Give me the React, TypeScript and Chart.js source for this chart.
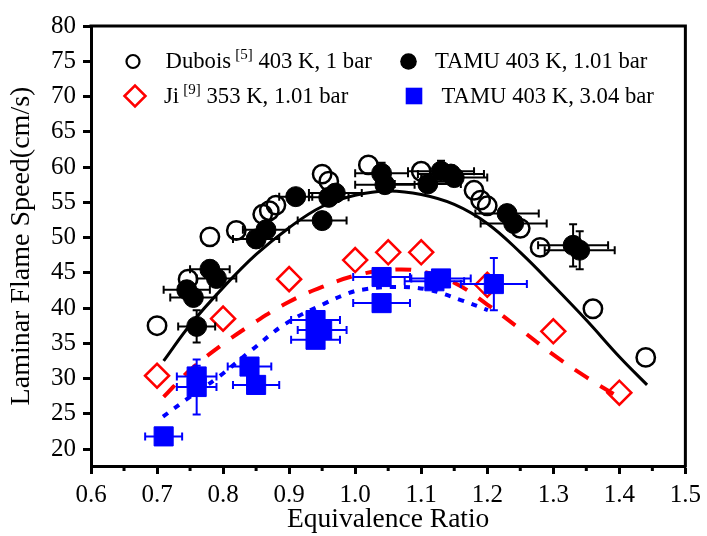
import React, { useEffect, useRef } from "react";
import { Chart, registerables } from "chart.js";

Chart.register(...registerables);

const FONT = '"Liberation Serif", "Times New Roman", serif';

// Axis ticks
const xTicks = [0.6, 0.7, 0.8, 0.9, 1.0, 1.1, 1.2, 1.3, 1.4, 1.5];
const xMinorTicks = [0.65, 0.75, 0.85, 0.95, 1.05, 1.15, 1.25, 1.35, 1.45];
const yTicks = [20, 25, 30, 35, 40, 45, 50, 55, 60, 65, 70, 75, 80];

// Dubois [5] 403 K, 1 bar (open circles)
const duboisX = [0.70, 0.747, 0.78, 0.82, 0.86, 0.87, 0.88, 0.95, 0.96, 1.02, 1.10, 1.18, 1.19, 1.20, 1.25, 1.28, 1.36, 1.44];
const duboisY = [37.5, 44.1, 50.1, 51.0, 53.3, 53.8, 54.6, 59.0, 58.0, 60.3, 59.4, 56.7, 55.3, 54.5, 51.3, 48.6, 39.9, 33.0];

// Ji [9] 353 K, 1.01 bar (open diamonds)
const jiX = [0.7, 0.8, 0.9, 1.0, 1.05, 1.1, 1.2, 1.3, 1.4];
const jiY = [30.4, 38.5, 44.1, 46.8, 47.9, 47.9, 43.3, 36.7, 28.0];

// TAMU 403 K, 1.01 bar (filled circles with error bars)
const tamu1X = [0.76, 0.745, 0.755, 0.78, 0.79, 0.85, 0.865, 0.91, 0.95, 0.96, 0.97, 1.04, 1.045, 1.11, 1.13, 1.145, 1.15, 1.23, 1.24, 1.33, 1.34];
const tamu1Y = [37.4, 42.6, 41.5, 45.5, 44.2, 49.8, 51.1, 55.8, 52.4, 55.7, 56.3, 59.1, 57.5, 57.6, 59.4, 59.0, 58.5, 53.4, 52.0, 48.9, 48.2];
const tamu1XErr = [0.028, 0.035, 0.035, 0.03, 0.03, 0.035, 0.035, 0.025, 0.037, 0.03, 0.04, 0.04, 0.045, 0.05, 0.05, 0.05, 0.05, 0.048, 0.05, 0.053, 0.053];
const tamu1YErr = [2.3, 1.2, 1.2, 1.2, 1.2, 1.2, 1.2, 0.8, 1.0, 1.0, 1.0, 1.5, 1.2, 1.0, 1.5, 1.2, 1.0, 1.0, 1.0, 3.0, 2.7];

// TAMU 403 K, 3.04 bar (filled squares with error bars)
const tamu3X = [0.71, 0.76, 0.76, 0.84, 0.85, 0.94, 0.95, 0.94, 1.04, 1.04, 1.12, 1.13, 1.21];
const tamu3Y = [21.8, 30.3, 28.8, 31.7, 29.1, 38.3, 36.9, 35.5, 44.4, 40.7, 43.8, 44.2, 43.4];
const tamu3XErr = [0.028, 0.03, 0.03, 0.033, 0.035, 0.037, 0.037, 0.037, 0.043, 0.043, 0.045, 0.045, 0.05];
const tamu3YErr = [0.8, 1.5, 3.9, 0.8, 0.8, 1.0, 1.0, 1.0, 1.0, 0.8, 1.0, 1.0, 3.7];

// Fitted curves
const fitBlackX = [0.71, 0.75, 0.80, 0.85, 0.90, 0.95, 1.00, 1.05, 1.10, 1.15, 1.20, 1.25, 1.30, 1.35, 1.40, 1.442];
const fitBlackY = [32.5, 37.6, 42.9, 47.6, 51.4, 54.4, 56.0, 56.6, 56.1, 54.7, 52.0, 47.9, 43.2, 38.3, 33.1, 29.1];
const fitRedX = [0.71, 0.75, 0.80, 0.85, 0.90, 0.95, 1.00, 1.05, 1.10, 1.15, 1.20, 1.25, 1.30, 1.35, 1.40];
const fitRedY = [27.4, 31.2, 34.9, 38.1, 40.9, 43.0, 44.6, 45.4, 45.2, 43.6, 40.5, 37.0, 33.4, 30.2, 27.3];
const fitBlueX = [0.709, 0.744, 0.794, 0.844, 0.895, 0.955, 0.99, 1.01, 1.06, 1.111, 1.161, 1.201];
const fitBlueY = [24.6, 27.0, 30.3, 34.1, 37.8, 40.7, 42.1, 42.6, 43.0, 42.6, 41.1, 39.7];

// Legend texts
const legendEntries = [
  { main: "Dubois", sup: "[5]", rest: "403 K, 1 bar" },
  { main: "Ji", sup: "[9]", rest: "353 K, 1.01 bar" },
  { main: "TAMU 403 K, 1.01 bar", sup: "", rest: "" },
  { main: "TAMU 403 K, 3.04 bar", sup: "", rest: "" },
];

const toPts = (xs: number[], ys: number[]) => xs.map((x, i) => ({ x, y: ys[i] }));

const errorBarPlugin = {
  id: "errorBars",
  beforeDatasetDraw(chart: any, args: any) {
    const ds: any = chart.data.datasets[args.index];
    if (!ds.errX) return;
    const xs = chart.scales.x;
    const ys = chart.scales.y;
    const ctx = chart.ctx;
    const cap = 4;
    ctx.save();
    ctx.strokeStyle = ds.errColor;
    ctx.lineWidth = 2;
    ds.data.forEach((p: any, i: number) => {
      const cx = xs.getPixelForValue(p.x);
      const cy = ys.getPixelForValue(p.y);
      const x1 = xs.getPixelForValue(p.x - ds.errX[i]);
      const x2 = xs.getPixelForValue(p.x + ds.errX[i]);
      const y1 = ys.getPixelForValue(p.y - ds.errY[i]);
      const y2 = ys.getPixelForValue(p.y + ds.errY[i]);
      ctx.beginPath();
      ctx.moveTo(x1, cy); ctx.lineTo(x2, cy);
      ctx.moveTo(x1, cy - cap); ctx.lineTo(x1, cy + cap);
      ctx.moveTo(x2, cy - cap); ctx.lineTo(x2, cy + cap);
      ctx.moveTo(cx, y1); ctx.lineTo(cx, y2);
      ctx.moveTo(cx - cap, y1); ctx.lineTo(cx + cap, y1);
      ctx.moveTo(cx - cap, y2); ctx.lineTo(cx + cap, y2);
      ctx.stroke();
    });
    ctx.restore();
  },
};

const framePlugin = {
  id: "frame",
  afterDraw(chart: any) {
    const { ctx, chartArea } = chart;
    const xs = chart.scales.x;
    ctx.save();
    ctx.strokeStyle = "#000";
    ctx.lineWidth = 3;
    ctx.beginPath();
    ctx.moveTo(chartArea.left - 1.5, chartArea.top);
    ctx.lineTo(chartArea.right, chartArea.top);
    ctx.lineTo(chartArea.right, chartArea.bottom + 1.5);
    ctx.stroke();
    ctx.beginPath();
    xMinorTicks.forEach((v) => {
      const px = xs.getPixelForValue(v);
      ctx.moveTo(px, chartArea.bottom);
      ctx.lineTo(px, chartArea.bottom + 5);
    });
    ctx.stroke();
    ctx.restore();
  },
};

const legendPlugin = {
  id: "customLegend",
  afterDraw(chart: any) {
    const ctx = chart.ctx;
    ctx.save();
    ctx.fillStyle = "#000";
    ctx.textBaseline = "alphabetic";
    const mainFont = `22.7px ${FONT}`;
    const supFont = `15px ${FONT}`;
    const drawText = (x: number, y: number, e: any) => {
      ctx.font = mainFont;
      ctx.fillStyle = "#000";
      ctx.fillText(e.main, x, y);
      let cx = x + ctx.measureText(e.main).width;
      if (e.sup) {
        cx += ctx.measureText(" ").width - 1.5;
        ctx.font = supFont;
        ctx.fillText(e.sup, cx, y - 9);
        cx += ctx.measureText(e.sup).width;
        ctx.font = mainFont;
        cx += ctx.measureText(" ").width;
        ctx.fillText(e.rest, cx, y);
      }
    };
    // Dubois: open circle
    ctx.strokeStyle = "#000";
    ctx.lineWidth = 2.2;
    ctx.beginPath();
    ctx.arc(133, 61.5, 6.5, 0, Math.PI * 2);
    ctx.stroke();
    drawText(165.5, 68.3, legendEntries[0]);
    // Ji: diamond
    ctx.strokeStyle = "#ff0000";
    ctx.lineWidth = 2.5;
    ctx.beginPath();
    ctx.moveTo(135 - 10.5, 96);
    ctx.lineTo(135, 96 - 10.5);
    ctx.lineTo(135 + 10.5, 96);
    ctx.lineTo(135, 96 + 10.5);
    ctx.closePath();
    ctx.stroke();
    drawText(164, 102.5, legendEntries[1]);
    // TAMU 1.01: filled circle
    ctx.fillStyle = "#000";
    ctx.beginPath();
    ctx.arc(408.5, 61.5, 8.3, 0, Math.PI * 2);
    ctx.fill();
    drawText(435, 68.3, legendEntries[2]);
    // TAMU 3.04: blue square
    ctx.fillStyle = "#0000ff";
    ctx.fillRect(414 - 8.3, 96 - 8.3, 16.6, 16.6);
    drawText(441.5, 103, legendEntries[3]);
    ctx.restore();
  },
};

export default function App() {
  const canvasRef = useRef<HTMLCanvasElement | null>(null);

  useEffect(() => {
    document.body.style.margin = "0";
    const canvas = canvasRef.current;
    if (!canvas) return;
    const chart = new Chart(canvas, {
      type: "scatter",
      data: {
        datasets: [
          {
            label: "TAMU 403 K, 3.04 bar",
            data: toPts(tamu3X, tamu3Y),
            pointStyle: "rect",
            pointRadius: 13.5,
            pointBackgroundColor: "#0000ff",
            pointBorderColor: "#0000ff",
            pointBorderWidth: 1,
            showLine: false,
            order: 0,
            errX: tamu3XErr,
            errY: tamu3YErr,
            errColor: "#0000ff",
          } as any,
          {
            label: "TAMU 403 K, 1.01 bar",
            data: toPts(tamu1X, tamu1Y),
            pointStyle: "circle",
            pointRadius: 10,
            pointBackgroundColor: "#000",
            pointBorderColor: "#000",
            pointBorderWidth: 1,
            showLine: false,
            order: 1,
            errX: tamu1XErr,
            errY: tamu1YErr,
            errColor: "#000",
          } as any,
          {
            label: "Ji 353 K, 1.01 bar",
            data: toPts(jiX, jiY),
            pointStyle: "rectRot",
            pointRadius: 12,
            pointBackgroundColor: "rgba(0,0,0,0)",
            pointBorderColor: "#ff0000",
            pointBorderWidth: 2.5,
            showLine: false,
            order: 2,
          },
          {
            label: "Dubois 403 K, 1 bar",
            data: toPts(duboisX, duboisY),
            pointStyle: "circle",
            pointRadius: 9.2,
            pointBackgroundColor: "rgba(0,0,0,0)",
            pointBorderColor: "#000",
            pointBorderWidth: 2.5,
            showLine: false,
            order: 3,
          },
          {
            label: "fit 3.04 bar",
            data: toPts(fitBlueX, fitBlueY),
            showLine: true,
            pointRadius: 0,
            borderColor: "#0000ff",
            borderWidth: 4,
            borderDash: [6, 8],
            tension: 0.4,
            order: 5,
          },
          {
            label: "fit Ji",
            data: toPts(fitRedX, fitRedY),
            showLine: true,
            pointRadius: 0,
            borderColor: "#ff0000",
            borderWidth: 4,
            borderDash: [16, 14],
            tension: 0.4,
            order: 6,
          },
          {
            label: "fit 1.01 bar",
            data: toPts(fitBlackX, fitBlackY),
            showLine: true,
            pointRadius: 0,
            borderColor: "#000",
            borderWidth: 3,
            tension: 0.4,
            order: 7,
          },
        ],
      },
      options: {
        responsive: false,
        animation: false,
        layout: { padding: { top: 26, right: 18, left: 0, bottom: 0 } },
        plugins: {
          legend: { display: false },
          tooltip: { enabled: false },
        },
        scales: {
          x: {
            type: "linear",
            min: 0.6,
            max: 1.5,
            afterBuildTicks: (s: any) => {
              s.ticks = xTicks.map((v) => ({ value: v }));
            },
            afterFit: (s: any) => {
              s.height = 70;
            },
            grid: {
              display: true,
              drawOnChartArea: false,
              drawTicks: true,
              tickLength: 8,
              tickWidth: 3,
              tickColor: "#000",
            },
            border: { display: true, width: 3, color: "#000" },
            ticks: {
              font: { family: FONT, size: 25 },
              color: "#000",
              padding: 6,
              maxRotation: 0,
              autoSkip: false,
              callback: (v: any) => Number(v).toFixed(1),
            },
            title: {
              display: true,
              text: "Equivalence Ratio",
              font: { family: FONT, size: 27.5 },
              color: "#000",
              padding: { top: 0, bottom: 0 },
            },
          },
          y: {
            type: "linear",
            min: 17.6,
            max: 80,
            afterBuildTicks: (s: any) => {
              s.ticks = yTicks.map((v) => ({ value: v }));
            },
            afterFit: (s: any) => {
              s.width = 91;
            },
            grid: {
              display: true,
              drawOnChartArea: false,
              drawTicks: true,
              tickLength: 8,
              tickWidth: 3,
              tickColor: "#000",
            },
            border: { display: true, width: 3, color: "#000" },
            ticks: {
              font: { family: FONT, size: 25 },
              color: "#000",
              padding: 7,
              autoSkip: false,
              callback: (v: any) => String(v),
            },
            title: {
              display: true,
              text: "Laminar Flame Speed(cm/s)",
              font: { family: FONT, size: 28 },
              color: "#000",
              padding: { top: 5, bottom: 0 },
            },
          },
        },
      },
      plugins: [errorBarPlugin, framePlugin, legendPlugin],
    } as any);
    return () => chart.destroy();
  }, []);

  return (
    <div style={{ width: 707, height: 536 }}>
      <canvas ref={canvasRef} width={707} height={536} style={{ display: "block" }} />
    </div>
  );
}
